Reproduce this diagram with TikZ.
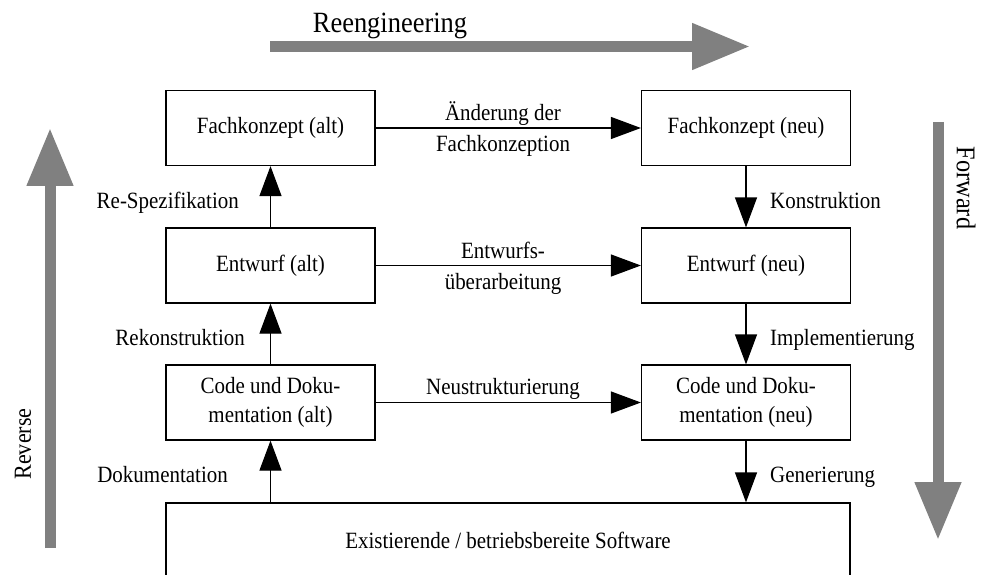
\documentclass[tikz,border=0pt]{standalone}
\usepackage{fontspec}
\setmainfont{Liberation Serif}[FakeStretch=0.9]
\usetikzlibrary{arrows.meta}
\definecolor{biggray}{HTML}{808080}
\begin{document}
\begin{tikzpicture}[x=1pt,y=-1pt,
  box/.style={draw, line width=1.2pt, minimum width=209pt, minimum height=75pt,
    inner sep=0pt, align=center, font=\fontsize{23.3}{29}\selectfont},
  conn/.style={line width=1.2pt, -{Triangle[length=30pt,width=22pt]}},
  lbl/.style={inner sep=0pt, anchor=base, font=\fontsize{23.3}{25}\selectfont},
  lbll/.style={lbl, anchor=base east},
  lblr/.style={lbl, anchor=base west},
  bigarrow/.style={biggray, line width=11pt, -{Triangle[length=58pt,width=44pt]}},
  bigtext/.style={inner sep=0pt, font=\fontsize{27}{30}\selectfont}]
\useasboundingbox (0,0) rectangle (983,575);
\clip (0,0) rectangle (983,575);

% boxes
\node[box] (fka) at (270.5,128) {Fachkonzept (alt)};
\node[box] (fkn) at (746,128) {Fachkonzept (neu)};
\node[box] (ea) at (270.5,265.5) {Entwurf (alt)};
\node[box] (en) at (746,265.5) {Entwurf (neu)};
\node[box] (ca) at (270.5,402.5) {Code und Doku-\\mentation (alt)};
\node[box] (cn) at (746,402.5) {Code und Doku-\\mentation (neu)};
\node[box, minimum width=684pt] (sw) at (508,540.5) {Existierende / betriebsbereite Software};

% horizontal connectors
\draw[conn] (fka.east) -- (fkn.west);
\draw[conn] (ea.east) -- (en.west);
\draw[conn] (ca.east) -- (cn.west);

% vertical connectors (reverse side)
\draw[conn] (sw.north -| ca.south) -- (ca.south);
\draw[conn] (ca.north) -- (ea.south);
\draw[conn] (ea.north) -- (fka.south);

% vertical connectors (forward side)
\draw[conn] (fkn.south) -- (en.north);
\draw[conn] (en.south) -- (cn.north);
\draw[conn] (cn.south) -- (cn.south |- sw.north);

% horizontal labels
\node[lbl] (l1a) at (503,121) {Änderung der};
\node[lbl] (l1b) at (503,152) {Fachkonzeption};
\node[lbl] (l2a) at (503,258) {Entwurfs-};
\node[lbl] (l2b) at (503,289) {überarbeitung};
\node[lbl] (l3a) at (503,394) {Neustrukturierung};

% vertical labels
\node[lbll] (lrs) at (239,208) {Re-Spezifikation};
\node[lbll] (lrk) at (245,345) {Rekonstruktion};
\node[lbll] (ldk) at (228,482) {Dokumentation};
\node[lblr] (lko) at (770,208) {Konstruktion};
\node[lblr] (lim) at (770,345) {Implementierung};
\node[lblr] (lge) at (770,482) {Generierung};

% big gray arrows
\coordinate (re0) at (270,46.5);
\coordinate (re1) at (750,46.5);
\draw[bigarrow] (re0) -- (re1);
\node[bigtext, anchor=base, font=\fontsize{29.4}{32}\selectfont] (reeng) at (390,33) {Reengineering};

\coordinate (rv0) at (50,548);
\coordinate (rv1) at (50,128);
\draw[bigarrow] (rv0) -- (rv1);
\node[bigtext, rotate=90, font=\fontsize{24.5}{28}\selectfont] (rev) at (23,444) {Reverse};

\coordinate (fw0) at (938,122);
\coordinate (fw1) at (938,540);
\draw[bigarrow] (fw0) -- (fw1);
\node[bigtext, rotate=-90] (fwd) at (966,188) {Forward};
\end{tikzpicture}
\end{document}
